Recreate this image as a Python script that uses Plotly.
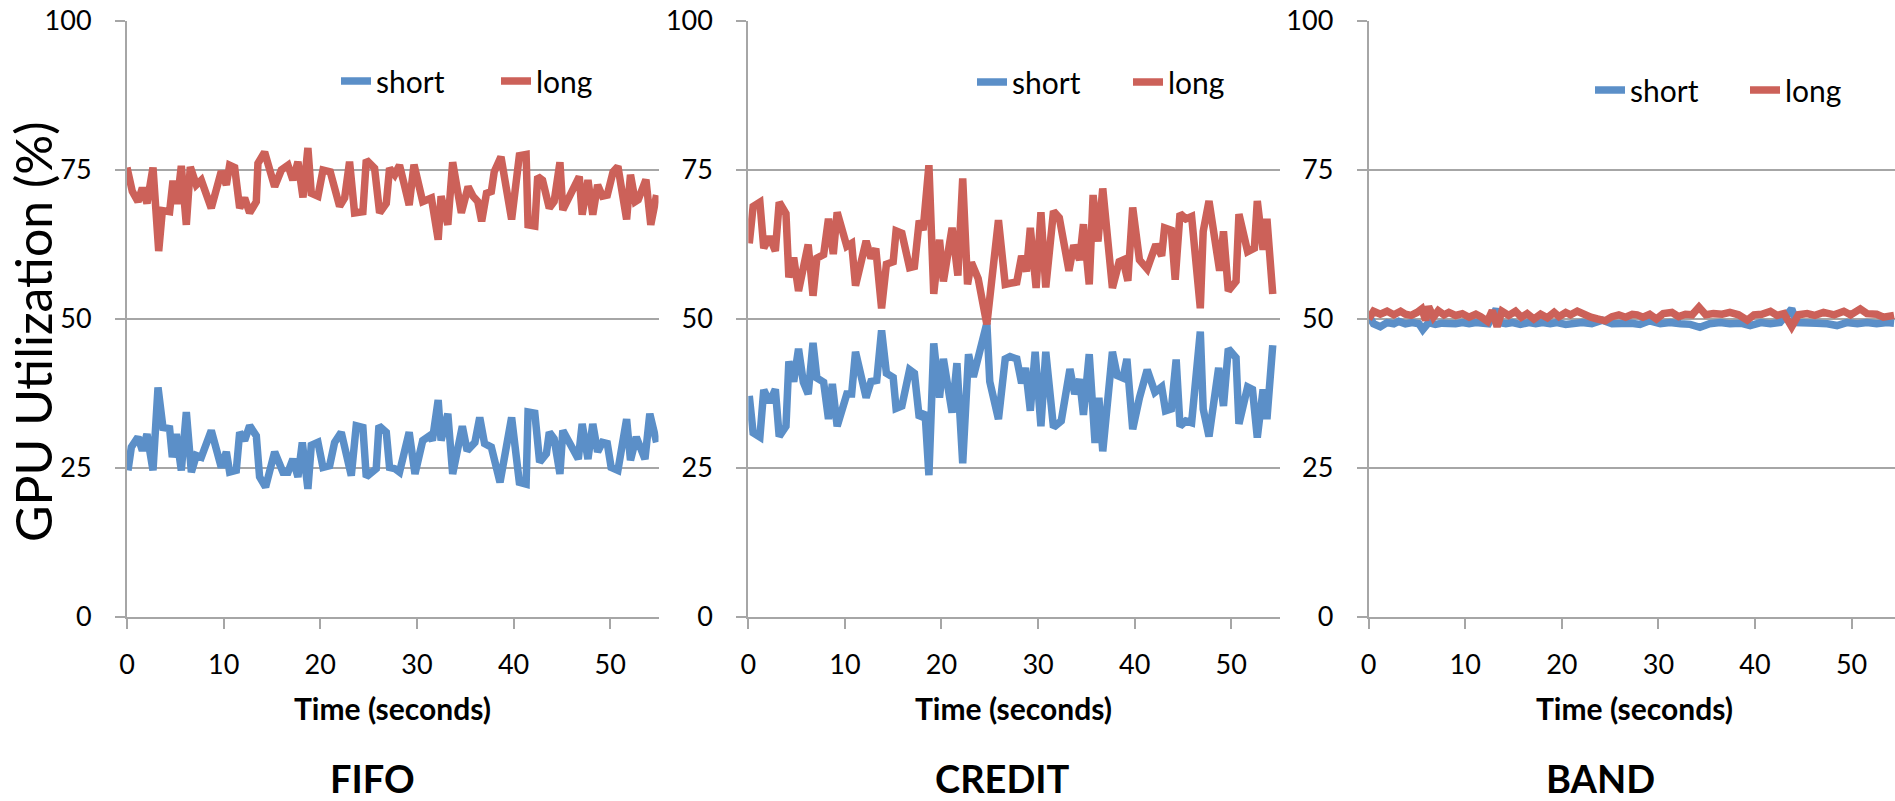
import plotly.graph_objects as go

# ---------------- data ----------------
fifo_long_t = [0.0, 0.55, 1.14, 1.59, 2.07, 2.69, 3.28, 3.66, 4.41, 4.76, 5.17, 5.62, 6.14, 6.55, 7.17, 7.69,
               8.72, 9.76, 10.28, 10.62, 11.14, 11.66, 12.17, 12.69, 13.38, 13.55, 14.24, 15.28, 15.97, 16.66,
               17.17, 17.69, 18.21, 18.72, 19.07, 19.76, 20.28, 21.03, 22.0, 22.52, 23.03, 23.55, 24.41, 24.76,
               25.62, 26.14, 26.83, 27.17, 27.7, 28.2, 28.7, 29.2, 29.7, 30.1, 30.6, 31.5, 32.2, 32.5, 33.2,
               33.7, 34.6, 35.3, 35.8, 36.3, 36.7, 37.2, 37.7, 38.0, 38.7, 39.8, 40.6, 41.3, 41.5, 42.2, 42.5,
               43.0, 43.7, 44.2, 44.8, 45.1, 46.0, 46.8, 47.1, 47.7, 48.2, 48.7, 49.2, 49.7, 50.3, 50.8, 51.7,
               52.1, 52.6, 52.9, 53.7, 54.2, 54.8]
fifo_long = [75.4, 71.4, 69.7, 72.0, 69.4, 75.4, 61.4, 68.2, 68.0, 73.2, 69.3, 75.7, 65.8, 75.5, 72.5, 73.3,
             68.6, 74.8, 72.5, 75.8, 75.4, 68.6, 70.3, 67.8, 69.7, 76.1, 78.0, 72.2, 75.0, 75.8,
             73.3, 76.4, 70.4, 78.7, 71.1, 70.6, 75.0, 74.7, 68.9, 70.3, 76.4, 67.8, 68.0, 76.7,
             75.3, 67.8, 69.4, 75.3, 74.2, 75.8, 72.5, 69.1, 75.9, 73.1, 69.7, 70.3, 63.3, 70.6, 65.8,
             76.3, 67.8, 72.2, 70.6, 69.7, 66.4, 71.1, 71.4, 74.7, 77.2, 66.7, 77.4, 77.6, 65.8, 65.6, 73.9,
             73.3, 68.6, 69.7, 76.3, 68.3, 71.4, 73.9, 67.5, 73.3, 67.5, 72.5, 70.6, 70.8, 74.7, 75.6, 66.7,
             74.2, 69.7, 70.0, 73.4, 65.8, 70.8]

fifo_short_t = [0.1, 0.45, 1.14, 1.59, 2.07, 2.69, 3.21, 3.72, 4.41, 4.69, 5.10, 5.62, 6.14, 6.66, 7.17, 7.69,
                8.72, 9.76, 10.28, 10.62, 11.31, 11.66, 12.17, 12.69, 13.38, 13.72, 14.34, 15.28, 16.14, 16.66,
                17.17, 17.69, 18.14, 18.72, 19.07, 19.76, 20.28, 20.97, 21.48, 22.17, 23.21, 23.72, 24.41, 24.76,
                25.79, 26.07, 26.83, 27.17, 27.7, 28.2, 29.2, 29.8, 30.6, 31.3, 31.6, 32.2, 32.5, 33.2, 33.7,
                34.7, 35.2, 36.0, 36.5, 37.0, 37.7, 38.6, 39.8, 40.6, 41.3, 41.5, 42.2, 42.7, 43.4, 43.7, 44.2,
                44.8, 45.1, 46.0, 46.7, 47.1, 47.7, 48.2, 48.7, 49.2, 49.7, 50.1, 50.8, 51.7, 52.1, 52.7, 53.6,
                54.1, 54.8]
fifo_short = [24.6, 28.5, 30.2, 27.9, 30.7, 24.6, 38.5, 31.8, 31.6, 26.8, 30.7, 24.6, 34.4, 24.3, 27.1, 26.8,
              31.3, 25.1, 27.7, 24.3, 24.6, 31.0, 29.6, 32.1, 30.4, 23.5, 21.8, 27.7, 24.3, 24.3,
              26.5, 23.5, 29.3, 21.5, 28.8, 29.3, 25.1, 25.4, 29.3, 31.0, 23.7, 32.1, 31.8, 23.5,
              24.9, 32.1, 31.0, 25.1, 24.9, 24.3, 31.0, 24.0, 29.6, 30.4, 29.6, 36.4, 29.6, 34.1, 24.0,
              32.0, 27.9, 29.3, 33.5, 29.1, 28.5, 22.6, 33.5, 22.6, 22.3, 34.4, 34.2, 26.0, 27.4, 31.0, 29.9,
              24.0, 31.3, 28.5, 26.5, 32.4, 26.5, 32.4, 27.7, 29.3, 29.1, 25.1, 24.6, 33.2, 26.3, 30.2, 26.5,
              34.1, 29.3]

credit_long_t = [0.1, 0.5, 1.2, 1.6, 2.2, 2.8, 3.2, 3.9, 4.2, 4.7, 5.2, 6.2, 6.7, 7.1, 7.8, 8.3, 8.8, 9.2,
                 10.2, 10.7, 11.1, 12.2, 12.7, 13.2, 13.8, 14.3, 15.0, 15.3, 15.9, 16.7, 17.2, 17.7, 18.1,
                 18.7, 19.2, 19.8, 20.2, 21.1, 21.7, 22.2, 22.7, 23.1, 23.8, 24.7, 25.9, 26.6, 27.1, 27.8,
                 28.3, 28.8, 29.2, 29.8, 30.3, 30.8, 31.6, 32.2, 33.2, 33.7, 34.3, 34.7, 35.3, 35.7, 36.2,
                 36.7, 37.7, 38.4, 38.8, 39.3, 39.8, 40.5, 41.3, 42.2, 42.8, 43.1, 43.8, 44.2, 44.7, 45.3,
                 45.9, 46.8, 47.1, 47.7, 48.8, 49.2, 49.7, 50.5, 50.8, 51.7, 52.4, 52.7, 53.3, 53.7, 54.3]
credit_long = [62.7, 68.9, 69.6, 61.9, 63.8, 61.4, 69.6, 67.7, 57.0, 60.3, 54.7, 62.5, 53.9, 60.2, 60.8, 66.8,
               60.9, 67.9, 62.2, 62.7, 55.6, 63.1, 60.2, 61.8, 51.8, 59.2, 59.6, 64.8, 64.4, 58.6, 58.8,
               66.5, 64.9, 75.8, 54.2, 63.3, 56.3, 65.3, 57.3, 73.6, 55.8, 59.5, 56.8, 49.1, 66.6, 55.8,
               56.0, 56.2, 60.6, 58.0, 65.3, 55.2, 67.9, 55.3, 68.1, 67.0, 58.1, 62.4, 59.9, 65.9, 55.8,
               70.8, 63.0, 71.9, 55.2, 59.6, 59.9, 56.4, 68.7, 59.9, 58.4, 62.5, 60.6, 65.3, 64.9, 56.6,
               67.7, 66.8, 67.2, 51.8, 64.7, 69.8, 58.1, 64.7, 54.7, 56.3, 67.6, 61.3, 61.9, 69.8, 61.6,
               66.8, 54.2]

credit_short_t = [0.1, 0.5, 1.2, 1.6, 2.2, 2.8, 3.2, 3.9, 4.2, 4.7, 5.2, 5.7, 6.2, 6.7, 7.1, 7.8, 8.3, 8.7,
                  9.2, 10.2, 10.7, 11.1, 12.2, 12.7, 13.3, 13.8, 14.3, 15.0, 15.3, 15.9, 16.7, 17.2, 17.7,
                  18.3, 18.7, 19.2, 19.8, 20.2, 21.1, 21.6, 22.2, 22.8, 23.3, 24.7, 25.0, 25.9, 26.6, 27.1,
                  27.8, 28.3, 28.7, 29.2, 29.7, 30.3, 30.8, 31.6, 32.4, 33.3, 33.8, 34.3, 34.7, 35.3, 35.9,
                  36.3, 36.7, 37.7, 38.2, 38.8, 39.2, 39.8, 40.5, 41.3, 42.1, 42.8, 43.2, 43.8, 44.3, 44.7,
                  45.3, 45.9, 46.8, 47.1, 47.7, 48.7, 49.2, 49.7, 50.5, 50.8, 51.7, 52.2, 52.7, 53.3, 53.7,
                  54.3]
credit_short = [37.1, 30.9, 30.2, 38.1, 36.0, 38.2, 30.3, 32.0, 42.9, 39.5, 45.0, 39.4, 37.4, 46.0, 40.1,
                39.4, 33.2, 39.1, 32.0, 37.4, 37.4, 44.5, 36.8, 39.5, 39.7, 48.1, 40.9, 40.2, 35.0, 35.4,
                41.5, 40.9, 33.4, 34.3, 23.8, 45.9, 36.8, 43.3, 34.3, 42.6, 25.8, 44.1, 40.3, 49.3, 39.5,
                33.2, 43.3, 43.7, 43.3, 39.2, 41.8, 34.6, 44.5, 32.0, 44.5, 31.8, 32.9, 41.6, 37.4, 39.9,
                33.9, 44.1, 29.2, 36.8, 27.8, 44.5, 40.5, 40.1, 43.3, 31.5, 36.8, 41.5, 37.7, 38.6, 34.6,
                34.9, 43.2, 32.0, 32.9, 32.6, 47.9, 34.9, 30.3, 41.8, 35.4, 45.0, 43.5, 32.4, 38.6, 38.2,
                30.1, 38.2, 33.2, 45.6]

band_long_t = [0.0, 0.5, 1.2, 1.9, 2.6, 3.3, 3.8, 4.4, 5.0, 5.5, 5.9, 6.2, 6.7, 7.2, 7.8, 8.3, 9.0, 9.7,
               10.4, 11.1, 11.6, 12.3, 12.8, 13.3, 13.8, 14.5, 15.2, 15.8, 16.4, 17.1, 17.8, 18.5, 19.2,
               19.7, 20.4, 20.9, 21.6, 22.3, 23.0, 23.7, 24.5, 25.2, 25.9, 26.6, 27.3, 27.8, 28.4, 29.1,
               29.8, 30.5, 31.4, 32.1, 32.8, 33.5, 34.2, 34.9, 35.7, 36.6, 37.4, 38.3, 39.2, 39.9, 40.7,
               41.6, 42.3, 43.0, 43.8, 44.5, 45.4, 46.2, 47.1, 48.2, 49.2, 49.9, 50.9, 51.6, 52.6, 53.3,
               54.4]
band_long = [50.0, 51.3, 50.8, 51.3, 50.7, 51.3, 50.8, 50.6, 51.1, 51.7, 49.8, 52.1, 50.3, 51.4, 50.7, 51.1,
             50.6, 50.9, 50.3, 50.8, 50.4, 49.6, 51.4, 48.7, 51.3, 50.6, 51.3, 50.3, 50.9, 50.0, 50.8,
             50.2, 51.1, 50.4, 51.1, 50.7, 51.3, 50.7, 50.3, 50.0, 49.7, 50.4, 50.7, 50.3, 50.8, 50.7,
             50.3, 50.8, 50.0, 50.9, 51.1, 50.4, 50.8, 50.7, 52.0, 50.7, 50.9, 50.8, 51.1, 50.7, 49.8,
             50.7, 50.8, 51.3, 50.6, 50.9, 48.7, 50.7, 50.9, 50.6, 51.1, 50.7, 51.3, 50.7, 51.7, 50.9,
             50.8, 50.3, 50.6]

band_short_t = [0.0, 0.5, 1.2, 1.9, 2.6, 3.1, 3.8, 4.5, 5.2, 5.6, 6.2, 6.9, 7.6, 8.3, 9.0, 9.7, 10.4, 11.1,
                11.7, 12.4, 13.2, 13.5, 14.2, 14.9, 15.7, 16.6, 17.3, 18.0, 18.8, 19.5, 20.4, 21.1, 22.1,
                23.1, 24.2, 25.2, 26.3, 27.2, 28.1, 29.1, 30.2, 31.2, 32.3, 33.3, 34.3, 35.3, 36.4, 37.4,
                38.5, 39.5, 40.6, 41.6, 42.6, 43.8, 44.3, 45.4, 46.4, 47.5, 48.5, 49.5, 50.6, 51.6, 52.6,
                53.7, 54.4]
band_short = [50.6, 49.2, 48.7, 49.4, 49.2, 49.6, 49.2, 49.4, 49.2, 48.2, 49.4, 49.1, 49.3, 49.2, 49.2, 49.4,
              49.2, 49.4, 49.2, 49.2, 51.7, 49.4, 49.2, 49.4, 49.1, 49.4, 49.2, 49.4, 49.2, 49.4, 49.1,
              49.2, 49.4, 49.2, 49.8, 49.2, 49.4, 49.3, 49.1, 49.7, 49.2, 49.4, 49.2, 49.1, 48.6, 49.2,
              49.4, 49.2, 49.3, 48.9, 49.4, 49.2, 49.4, 51.7, 49.4, 49.2, 49.3, 49.2, 48.9, 49.4, 49.2,
              49.4, 49.2, 49.4, 49.3]

panel_titles = ["FIFO", "CREDIT", "BAND"]
x_ticks = [0, 10, 20, 30, 40, 50]
y_ticks = [0, 25, 50, 75, 100]
series_names = ["short", "long"]

# ---------------- style ----------------
W, H = 1895, 801
BLUE = "#5B8FC8"
RED = "#CC6159"
GRID = "#A6A6A6"
FONT = "Lato"
LW = 7.5

def px_x(p):
    return p / W

def px_y(p):
    return (H - p) / H

x_domains = [[px_x(127), px_x(658.5)], [px_x(748.3), px_x(1279.5)], [px_x(1368.7), 1.0]]
x_ranges = [[0, 55], [0, 55], [0, 54.5]]
y_domain = [px_y(617), px_y(21)]

panels = [
    (fifo_short_t, fifo_short, fifo_long_t, fifo_long),
    (credit_short_t, credit_short, credit_long_t, credit_long),
    (band_short_t, band_short, band_long_t, band_long),
]
legend_ids = ["legend", "legend2", "legend3"]

fig = go.Figure()
for i, (st, sv, lt, lv) in enumerate(panels):
    sfx = "" if i == 0 else str(i + 1)
    fig.add_trace(go.Scatter(x=st, y=sv, mode="lines", name=series_names[0],
                             line=dict(color=BLUE, width=LW), xaxis="x" + sfx, yaxis="y" + sfx,
                             legend=legend_ids[i]))
    fig.add_trace(go.Scatter(x=lt, y=lv, mode="lines", name=series_names[1],
                             line=dict(color=RED, width=LW), xaxis="x" + sfx, yaxis="y" + sfx,
                             legend=legend_ids[i], legendwidth=70))

layout = dict(
    width=W, height=H,
    margin=dict(l=0, r=0, t=0, b=0, pad=0, autoexpand=False),
    paper_bgcolor="white", plot_bgcolor="white",
    font=dict(family=FONT, color="black"),
    showlegend=True,
)

for i in range(3):
    sfx = "" if i == 0 else str(i + 1)
    layout["xaxis" + sfx] = dict(
        domain=x_domains[i], range=x_ranges[i], anchor="y" + sfx, automargin=False,
        tickvals=x_ticks, ticktext=[str(v) for v in x_ticks],
        showgrid=False, zeroline=False,
        showline=True, linecolor=GRID, linewidth=2,
        ticks="outside", ticklen=10, tickwidth=2, tickcolor=GRID,
        tickfont=dict(family=FONT, size=27, color="black"),
        ticklabelstandoff=13,
    )
    layout["yaxis" + sfx] = dict(
        domain=y_domain, range=[0, 100], anchor="x" + sfx, automargin=False,
        tickvals=y_ticks, ticktext=[str(v) for v in y_ticks],
        showgrid=True, gridcolor=GRID, gridwidth=2, zeroline=False,
        showline=True, linecolor=GRID, linewidth=2,
        ticks="outside", ticklen=10, tickwidth=2, tickcolor=GRID,
        tickfont=dict(family=FONT, size=27, color="black"),
        ticklabelstandoff=18,
    )

legend_pos = [(336, 81), (972, 82), (1590, 90)]
legend_entry_w = [115, 111, 110]
for lid, (lx, ly), ew in zip(legend_ids, legend_pos, legend_entry_w):
    layout[lid] = dict(
        orientation="h", x=px_x(lx), y=px_y(ly), xanchor="left", yanchor="middle",
        font=dict(family=FONT, size=30, color="black"),
        bgcolor="rgba(0,0,0,0)", borderwidth=0,
        entrywidth=ew, entrywidthmode="pixels", itemwidth=30,
    )

annotations = [
    dict(text="GPU Utilization (%)", x=px_x(33), y=px_y(332), xref="paper", yref="paper",
         textangle=-90, showarrow=False, font=dict(family=FONT, size=50, color="black"),
         xanchor="center", yanchor="middle"),
]
xt_centers = [392.5, 1013, 1634]
pt_centers = [372, 1003, 1600]
for i in range(3):
    annotations.append(dict(text="<b>Time (seconds)</b>", x=px_x(xt_centers[i]), y=px_y(708),
                            xref="paper", yref="paper", showarrow=False,
                            font=dict(family=FONT, size=30, color="black"),
                            xanchor="center", yanchor="middle"))
    annotations.append(dict(text="<b>%s</b>" % panel_titles[i], x=px_x(pt_centers[i]), y=px_y(778),
                            xref="paper", yref="paper", showarrow=False,
                            font=dict(family=FONT, size=38, color="black"),
                            xanchor="center", yanchor="middle"))
layout["annotations"] = annotations

fig.update_layout(**layout)
fig.write_html(
    "out.html",
    config={"displayModeBar": False},
    post_script="document.body.style.margin='0px';document.body.style.padding='0px';"
                "document.body.style.overflow='hidden';",
)
